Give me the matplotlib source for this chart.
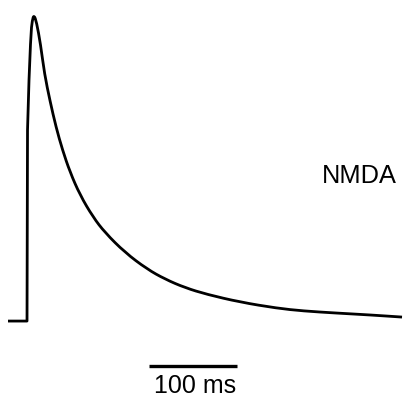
import matplotlib
matplotlib.use("Agg")
import matplotlib.pyplot as plt
from matplotlib.path import Path
from matplotlib.patches import PathPatch

# NMDA current trace
# time in ms (0 = onset), amplitude normalised to the peak
time_ms = [-21.6, 0.0, 0.57, 2.27, 4.20, 6.02, 7.95, 10.80, 15.34, 19.89,
           26.14, 32.95, 40.34, 48.86, 60.23, 75.0, 88.64, 111.36, 136.36,
           156.82, 179.55, 204.55, 242.05, 284.09, 313.64, 352.27, 389.77,
           426.14]
amplitude = [0.0, 0.0, 0.624, 0.788, 0.935, 0.984, 1.0, 0.977, 0.905, 0.807,
             0.719, 0.634, 0.559, 0.487, 0.412, 0.340, 0.289, 0.224, 0.170,
             0.137, 0.109, 0.087, 0.062, 0.042, 0.033, 0.026, 0.020, 0.013]

SCALE_MS = 100
LABEL = "NMDA"

plt.rcParams["font.family"] = ["Liberation Sans", "DejaVu Sans"]

fig = plt.figure(figsize=(4.04, 4.04), dpi=100)
ax = fig.add_axes([0, 0, 1, 1])
ax.set_xlim(-30.7, 428.4)
ax.set_ylim(-0.271, 1.049)
ax.axis("off")

# baseline + fast rise as straight segments, decay drawn as a smooth
# quadratic path through the read points (midpoint anchors)
n_rise = 3
pts = list(zip(time_ms, amplitude))
verts = pts[:n_rise + 1]
codes = [Path.MOVETO] + [Path.LINETO] * n_rise
tail = pts[n_rise:]
for i in range(1, len(tail) - 1):
    mid = ((tail[i][0] + tail[i + 1][0]) / 2, (tail[i][1] + tail[i + 1][1]) / 2)
    verts += [tail[i], mid]
    codes += [Path.CURVE3, Path.CURVE3]
verts.append(tail[-1])
codes.append(Path.LINETO)

trace = PathPatch(Path(verts, codes), fill=False, edgecolor="black", lw=2.0,
                  joinstyle="round", capstyle="butt")
ax.add_patch(trace)

# scale bar
x0 = 138.6
ax.plot([x0, x0 + SCALE_MS], [-0.147, -0.147], color="black", lw=2.4,
        solid_capstyle="butt")
ax.text(x0 + SCALE_MS / 2 + 2, -0.212, f"{SCALE_MS} ms", ha="center",
        va="center", fontsize=18)

ax.text(335.2, 0.475, LABEL, ha="left", va="center", fontsize=18.3)

fig.savefig("out.png", dpi=100)
